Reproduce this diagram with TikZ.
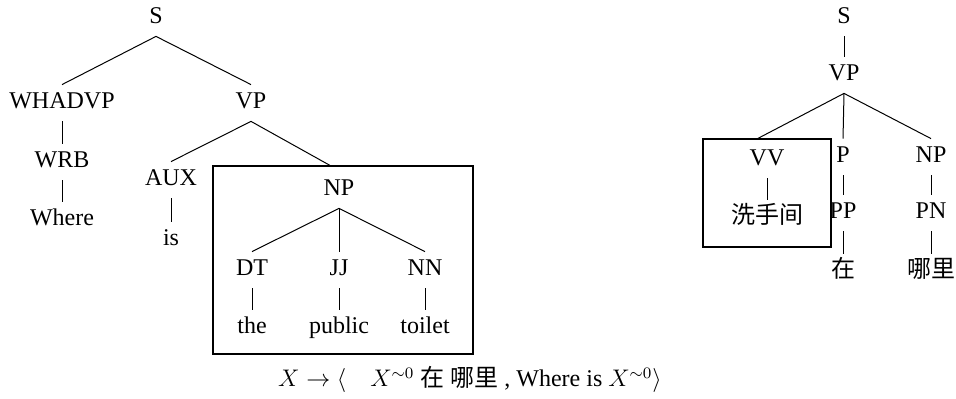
\documentclass[tikz,border=0pt]{standalone}
\usepackage{fontspec}
\setmainfont{Liberation Serif}
\newfontfamily\cjk{Noto Sans CJK SC}
\usetikzlibrary{calc}

\begin{document}
\begin{tikzpicture}[x=0.5pt, y=-0.5pt]
\tikzset{TagStyle/.style =
    {font=\fontsize{12}{14}\selectfont, text height=8pt, text depth=2pt, inner xsep=2pt, inner ysep=4pt}
}
\tikzset{EdgeStyle/.style = {draw, line width=0.5pt}}
\tikzset{BoxStyle/.style = {draw, line width=0.6pt, inner sep=0pt}}
\useasboundingbox (0,0) rectangle (956,399);
% english tree
\foreach \name/\x/\y in {S/156/18, WHADVP/62/103, VP/251/103, WRB/62/162, Where/62/220,
    AUX/171/180, is/171/240, NP/339/190, DT/252/270, JJ/339/270, NN/425/270,
    the/252/328, public/339/328, toilet/425/328}
    \node[TagStyle] (T-en-\name) at (\x,\y) {\name};
\node[BoxStyle, minimum width=130pt, minimum height=94pt] (T-en-box) at (343,260) {};
\foreach \from/\to in {S/WHADVP, S/VP, WHADVP/WRB, WRB/Where, VP/AUX, AUX/is,
    NP/DT, NP/JJ, NP/NN, DT/the, JJ/public, NN/toilet}
    \draw[EdgeStyle] (T-en-\from.south) -- (T-en-\to.north);
\draw[EdgeStyle] (T-en-VP.south) -- ($(T-en-box.north west)!0.45!(T-en-box.north east)$);

% chinese tree
\foreach \name/\x/\y in {S/844/18, VP/844/75, P/843/157, NP/931/157, VV/767/160,
    PP/843/213, PN/931/213}
    \node[TagStyle] (T-zh-\name) at (\x,\y) {\name};
\node[TagStyle] (T-zh-xsj) at (767,218) {\cjk 洗手间};
\node[TagStyle] (T-zh-zai) at (843,272) {\cjk 在};
\node[TagStyle] (T-zh-nali) at (931,272) {\cjk 哪里};
\node[BoxStyle, minimum width=64pt, minimum height=54pt] (T-zh-box) at (767,193) {};
\foreach \from/\to in {S/VP, VP/P, VP/NP, VV/xsj, P/PP, NP/PN, PP/zai, PN/nali}
    \draw[EdgeStyle] (T-zh-\from.south) -- (T-zh-\to.north);
\draw[EdgeStyle] (T-zh-VP.south) -- ($(T-zh-box.north west)!0.43!(T-zh-box.north east)$);

% rule
\node[TagStyle] (F-rule) at (470,381)
    {$X \rightarrow \langle\quad X^{\sim 0}$ {\cjk 在} {\cjk 哪里} , Where is $X^{\sim 0}\rangle$};
\end{tikzpicture}
\end{document}
